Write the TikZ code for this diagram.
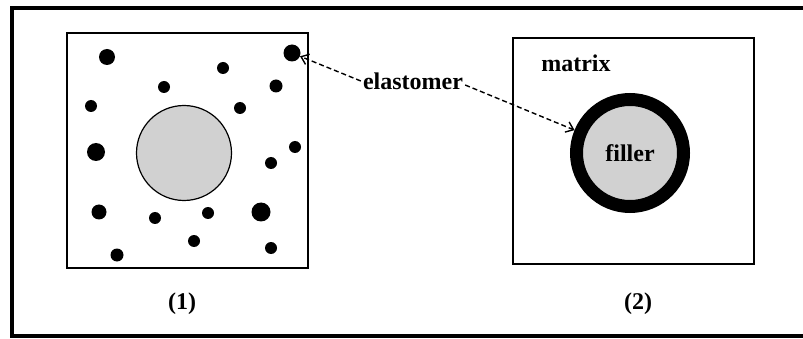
\documentclass[tikz,border=0pt]{standalone}
\usepackage{fontspec}
\setmainfont{Liberation Serif}
\usetikzlibrary{arrows.meta}

\tikzset{
  particle/.style={circle, fill=black, inner sep=0pt, minimum size=#1},
  particle/.default=12pt,
  tag/.style={font=\bfseries\fontsize{24}{28}\selectfont, inner sep=2pt},
  pointer/.style={-{Straight Barb[length=7pt,width=11pt]}, dash pattern=on 5pt off 3pt, line width=1.4pt},
}

\begin{document}
\begin{tikzpicture}[x=1pt,y=-1pt]
    \useasboundingbox (0,0) rectangle (803,339);

    % Outer frame
    \draw[line width=3.8pt] (812,8) -- (12,8) -- (12,336) -- (812,336);

    % Picture (1): filler in the elastomer
    \draw[line width=1.3pt] (67,33) rectangle (308,268);
    \node[circle, draw, line width=1.2pt, fill=black!18, inner sep=0pt, minimum size=95pt] (core) at (184,153) {};
    \node[particle=17pt] (rubber) at (292,53) {};
    \foreach \x/\y/\d [count=\i] in {107/57/16, 223/68/12, 164/87/12, 276/86/13, 91/106/12,
        240/108/12, 96/152/18, 295/147/12, 271/163/12, 99/212/15, 155/218/12,
        208/213/12, 261/212/19, 194/241/12, 117/255/13, 271/248/12}
      \node[particle=\d pt] (p\i) at (\x,\y) {};
    \node[tag] (one) at (182,304) {(1)};

    % Picture (2): filler coated by the elastomer, in the matrix
    \draw[line width=1.3pt] (513,38) rectangle (754,264);
    \node[circle, draw, line width=13pt, fill=black!18, inner sep=0pt, minimum size=107pt,
          outer sep=6.5pt, tag] (filler) at (630,153) {filler};
    \node[tag] (matrix) at (576,63) {matrix};
    \node[tag] (two) at (638,304) {(2)};

    % Pointers
    \node[tag] (elast) at (413,81) {elastomer};
    \draw[pointer] (elast.west) -- (rubber);
    \draw[pointer] ([yshift=-4pt]elast.east) -- (filler);
\end{tikzpicture}
\end{document}
